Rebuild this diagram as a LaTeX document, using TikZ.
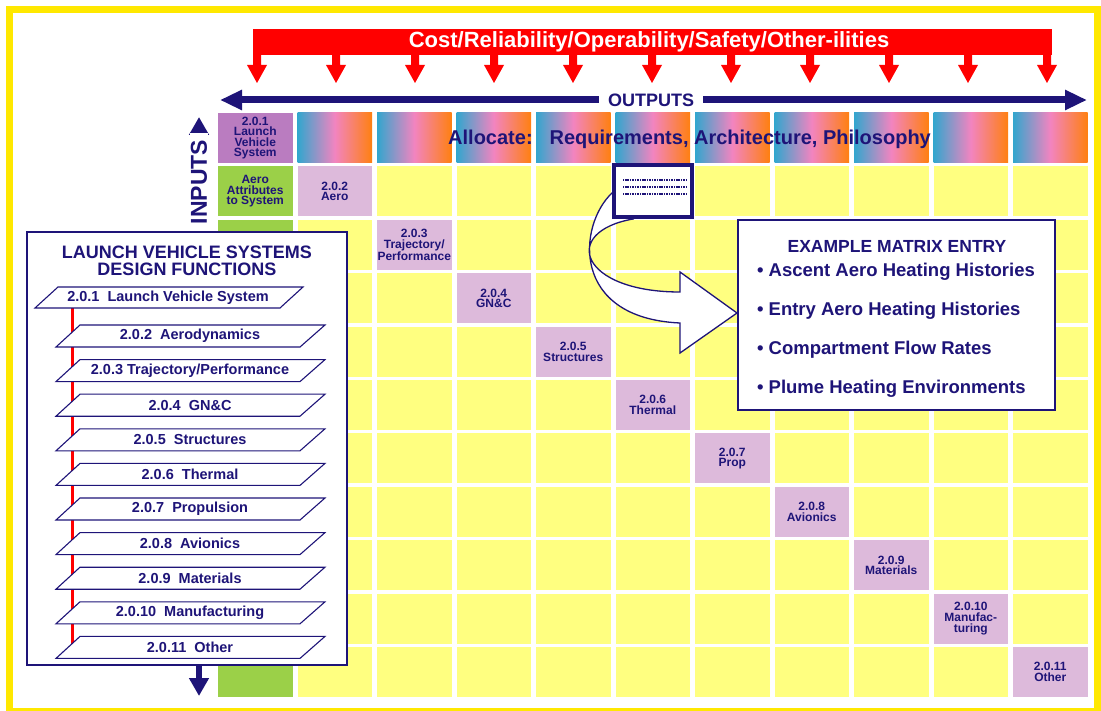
\documentclass[tikz,border=0pt]{standalone}
\usepackage{fontspec}
\setmainfont{Liberation Sans}
\usetikzlibrary{arrows.meta}
\definecolor{navy}{RGB}{30,20,120}
\definecolor{redc}{RGB}{255,0,0}
\definecolor{frameyel}{RGB}{255,232,0}
\definecolor{cellyel}{RGB}{255,255,128}
\definecolor{cellgreen}{RGB}{155,208,72}
\definecolor{cellpurple}{RGB}{186,124,192}
\definecolor{celllilac}{RGB}{221,186,219}
\definecolor{hdrL}{RGB}{50,166,206}
\definecolor{hdrM}{RGB}{242,132,192}
\definecolor{hdrR}{RGB}{255,128,16}
\newcommand\cfnt{\bfseries\fontsize{12}{10.6}\selectfont}
\newcommand\pfnt{\bfseries\fontsize{14.5}{16}\selectfont}
\begin{document}
\begin{tikzpicture}[x=1pt,y=-1pt,
  cellbox/.style={minimum width=74.5pt,minimum height=50pt,inner sep=0pt,align=center,font=\cfnt,text=navy},
  yelcell/.style={cellbox,fill=cellyel},
  greencell/.style={cellbox,fill=cellgreen},
  diagcell/.style={cellbox,fill=celllilac},
  topcell/.style={cellbox,fill=cellpurple},
  hdrcell/.style={cellbox,left color=hdrL,right color=hdrR,middle color=hdrM},
  para/.style={draw=navy,fill=white,line width=1.1pt,line join=miter},
  plabel/.style={font=\pfnt,text=navy,inner sep=0pt},
  bullet/.style={font=\bfseries\fontsize{18.5}{20}\selectfont,text=navy,anchor=west,inner sep=0pt}
]
\useasboundingbox (0,0) rectangle (1101,711);
% outer frame
\draw[frameyel,line width=7pt] (9.5,9.5) rectangle (1097.5,711.5);

% ---- matrix cells
\node[topcell] (c00) at (255.25,138) {2.0.1\\Launch\\Vehicle\\System};
\foreach \c in {1,...,10}{\node[hdrcell] (h\c) at ({255.25+79.5*\c},138) {};}
\node[greencell] (g1) at (255.25,191.4) {Aero\\Attributes\\to System};
\foreach \r in {2,...,10}{\node[greencell] (g\r) at (255.25,{138+53.4*\r}) {};}
\foreach \r in {1,...,10}{\foreach \c in {1,...,10}{%
  \ifnum\r=\c\relax\else\node[yelcell] (y\r-\c) at ({255.25+79.5*\c},{138+53.4*\r}) {};\fi}}
\node[diagcell] (d1) at (334.75,191.4) {2.0.2\\Aero};
\node[diagcell] (d2) at (414.25,244.8) {2.0.3\\Trajectory/\\Performance};
\node[diagcell] (d3) at (493.75,298.2) {2.0.4\\GN\&C};
\node[diagcell] (d4) at (573.25,351.6) {2.0.5\\Structures};
\node[diagcell] (d5) at (652.75,405.0) {2.0.6\\Thermal};
\node[diagcell] (d6) at (732.25,458.4) {2.0.7\\Prop};
\node[diagcell] (d7) at (811.75,511.8) {2.0.8\\Avionics};
\node[diagcell] (d8) at (891.25,565.2) {2.0.9\\Materials};
\node[diagcell] (d9) at (970.75,618.6) {2.0.10\\Manufac-\\turing};
\node[diagcell] (d10) at (1050.25,672.0) {2.0.11\\Other};

\node[anchor=west,inner sep=0pt,text=navy,font=\bfseries\fontsize{20}{22}\selectfont] (alloc) at (448,139)
  {Allocate:\hspace{17pt}Requirements, Architecture, Philosophy};

% ---- red cost bar with arrows
\fill[redc] (253,29) rectangle (1052,55);
\foreach \i in {0,...,10}{%
  \pgfmathsetmacro\ax{257+79*\i}
  \fill[redc] (\ax-4,54) -- (\ax-4,65) -- (\ax-10,65) -- (\ax,83) -- (\ax+10,65) -- (\ax+4,65) -- (\ax+4,54) -- cycle;}
\node[text=white,font=\bfseries\fontsize{22}{24}\selectfont] (cost) at (649,42)
  {Cost/Reliability/Operability/Safety/Other-ilities};

% ---- outputs arrow
\coordinate (outL) at (220,100);
\coordinate (outR) at (1087,100);
\draw[navy,line width=7pt,{Triangle[length=22pt,width=19pt]}-{Triangle[length=22pt,width=19pt]}] (outL) -- (outR);
\node[fill=white,text=navy,inner xsep=9pt,inner ysep=2pt,font=\bfseries\fontsize{18}{20}\selectfont] (outputs) at (651,100) {OUTPUTS};

% ---- inputs arrow
\coordinate (inT) at (199,117);
\coordinate (inB) at (199,696);
\draw[navy,line width=6pt,{Triangle[length=18pt,width=19pt]}-{Triangle[length=18pt,width=19pt]}] (inB) -- (inT);
\node[fill=white,text=navy,rotate=90,inner xsep=7pt,inner ysep=1pt,font=\bfseries\fontsize{23}{24}\selectfont] (inputs) at (199,182) {INPUTS};

% ---- left panel
\node[draw=navy,fill=white,line width=1.2pt,minimum width=320pt,minimum height=433pt,inner sep=0pt] (panel) at (187,448.5) {};
\node[text=navy,align=center,font=\bfseries\fontsize{18}{17}\selectfont] (ptitle) at (187,260.5) {LAUNCH VEHICLE SYSTEMS\\DESIGN FUNCTIONS};
\coordinate (rtop) at (72,308);
\coordinate (rbot) at (72,645);
\draw[redc,line width=3pt] (rtop) -- (rbot);
\draw[para] (35,308) -- (280,308) -- (303,287) -- (58,287) -- cycle;
\node[plabel] (f1) at (168,297.5) {2.0.1~~Launch Vehicle System};
\foreach \k/\lab in {2/{2.0.2~~Aerodynamics},3/{2.0.3 Trajectory/Performance},4/{2.0.4~~GN\&C},5/{2.0.5~~Structures},6/{2.0.6~~Thermal},7/{2.0.7~~Propulsion},8/{2.0.8~~Avionics},9/{2.0.9~~Materials},10/{2.0.10~~Manufacturing},11/{2.0.11~~Other}}{%
  \pgfmathsetmacro\ty{325+34.6*(\k-2)}
  \draw[para] (56,\ty+22) -- (300,\ty+22) -- (325,\ty) -- (80,\ty) -- cycle;
  \node[plabel] (f\k) at (190,\ty+11) {\lab};}

% ---- curved block arrow from matrix entry to example box
\filldraw[fill=white,draw=navy,line width=1.3pt,line join=miter]
  (612,193) .. controls (578,225) and (570,318) .. (680,323)
  -- (680,353) -- (737,313) -- (680,272) -- (680,292)
  .. controls (580,292) and (560,232) .. (633,219) -- cycle;

% ---- zoomed matrix entry
\node[draw=navy,fill=white,line width=4pt,minimum width=78pt,minimum height=52pt,inner sep=0pt] (entry) at (653,191) {};
\foreach \yy in {180,187,194}{\draw[navy,line width=1.1pt,dash pattern=on 1.1pt off 0.6pt] (623,\yy) -- (686,\yy);}

% ---- example box
\node[draw=navy,fill=white,line width=1.6pt,minimum width=317pt,minimum height=190pt,inner sep=0pt] (ex) at (896.5,315) {};
\node[text=navy,font=\bfseries\fontsize{17.5}{20}\selectfont] (extitle) at (897,246) {EXAMPLE MATRIX ENTRY};
\node[bullet] (b1) at (757,272) {\textbullet\hspace{5pt}Ascent Aero Heating Histories};
\node[bullet] (b2) at (757,311) {\textbullet\hspace{5pt}Entry Aero Heating Histories};
\node[bullet] (b3) at (757,350) {\textbullet\hspace{5pt}Compartment Flow Rates};
\node[bullet] (b4) at (757,389) {\textbullet\hspace{5pt}Plume Heating Environments};
\end{tikzpicture}
\end{document}
